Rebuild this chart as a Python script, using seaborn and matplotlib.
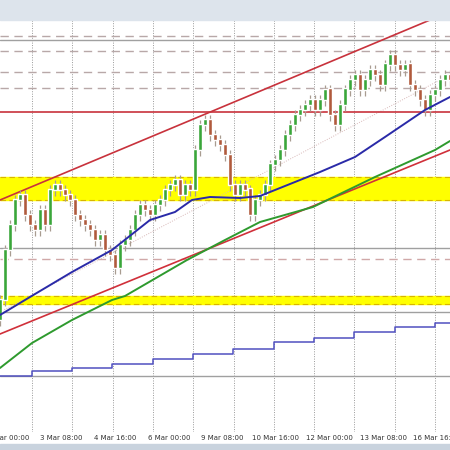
import numpy as np
import pandas as pd
import matplotlib
matplotlib.use("Agg")
import matplotlib.pyplot as plt
import seaborn as sns
from matplotlib.patches import Rectangle

sns.set_style("white")
plt.rcParams["font.family"] = ["DejaVu Sans"]

# candle closes (every 5 px of time)
closes = [106.80, 107.30, 107.55, 107.80, 107.85, 107.65, 107.55, 107.50, 107.70, 107.55,
          107.90, 107.95, 107.90, 107.85, 107.80, 107.65, 107.60, 107.55, 107.50, 107.40,
          107.45, 107.30, 107.25, 107.12, 107.35, 107.40, 107.50, 107.65, 107.75, 107.70,
          107.65, 107.75, 107.80, 107.90, 107.95, 108.00, 107.85, 107.95, 107.90, 108.30,
          108.55, 108.60, 108.45, 108.40, 108.35, 108.25, 107.95, 107.85, 107.95, 107.90,
          107.65, 107.80, 107.85, 107.95, 108.15, 108.20, 108.30, 108.45, 108.55, 108.65,
          108.70, 108.75, 108.80, 108.70, 108.80, 108.90, 108.65, 108.55, 108.75, 108.90,
          109.00, 109.05, 108.90, 109.00, 109.10, 109.05, 108.95, 109.15, 109.25, 109.15,
          109.10, 109.15, 108.95, 108.90, 108.80, 108.70, 108.85, 108.90, 109.00, 109.05, 109.00]
first_open = 106.60

# moving averages (x, price)
blue_x = [0, 30, 72, 112, 150, 175, 192, 210, 240, 260, 280, 300, 320, 355, 385, 425, 450]
blue_y = [106.65, 106.83, 107.08, 107.30, 107.60, 107.68, 107.80, 107.83, 107.82, 107.84,
          107.92, 108.00, 108.08, 108.23, 108.43, 108.70, 108.83]
green_x = [0, 32, 72, 112, 125, 187, 225, 260, 313, 375, 435, 450]
green_y = [106.12, 106.37, 106.60, 106.80, 106.84, 107.20, 107.40, 107.58, 107.73, 108.03, 108.30, 108.39]
step_x = [0, 32, 72, 112, 153, 193, 233, 274, 314, 354, 395, 435, 450]
step_y = [106.04, 106.09, 106.12, 106.16, 106.21, 106.26, 106.31, 106.38, 106.42, 106.48, 106.53, 106.57, 106.57]

solid_levels = [109.40, 107.32, 106.68, 106.04]
dashed_levels = [109.44, 109.29, 109.08, 108.92]
pink_level = 107.21
red_level = 108.68
bands = [(107.80, 108.03), (106.76, 106.84)]

tick_labels = ["2 Mar 00:00", "3 Mar 08:00", "4 Mar 16:00", "6 Mar 00:00", "9 Mar 08:00",
               "10 Mar 16:00", "12 Mar 00:00", "13 Mar 08:00", "16 Mar 16:00"]

fig = plt.figure(figsize=(4.5, 4.5), dpi=100)
fig.patches.append(Rectangle((0, 0.955), 1, 0.045, transform=fig.transFigure, color="#dde4ec", zorder=0))
fig.patches.append(Rectangle((0, 0), 1, 0.013, transform=fig.transFigure, color="#c9d3de", zorder=0))
ax = fig.add_axes([0, 0.04, 1, 412 / 450])
ax.set_xlim(0, 450)
ax.set_ylim(105.48, 109.60)

for x in np.arange(32, 450, 40.3):
    ax.axvline(x, color="#999999", ls=(0, (1, 1.5)), lw=0.7, zorder=1)
for lo, hi in bands:
    ax.axhspan(lo, hi, color="#ffff00", zorder=1)
    for v in (lo, hi):
        ax.axhline(v, color="#d9b400", ls=(0, (5, 3)), lw=0.8, zorder=1)
for v in solid_levels:
    ax.axhline(v, color="#a0a0a0", lw=1, zorder=1)
for v in dashed_levels:
    ax.axhline(v, color="#b8a8a8", ls=(0, (6, 4)), lw=1, zorder=1)
ax.axhline(pink_level, color="#d0a8a8", ls=(0, (6, 4)), lw=1, zorder=1)
ax.axhline(red_level, color="#c8323c", lw=1.2, zorder=3)

# channel lines
ax.plot([0, 430], [107.80, 109.60], color="#c8323c", lw=1.2, zorder=3)
ax.plot([0, 450], [106.46, 108.30], color="#d0303a", lw=1.2, zorder=3)
ax.plot([0, 440], [106.68, 109.00], color="#d8b8b8", ls=(0, (1, 1.5)), lw=0.7, zorder=2)

# candles
df = pd.DataFrame({"x": np.arange(len(closes)) * 5, "close": closes})
df["open"] = [first_open] + closes[:-1]
up = df["close"] >= df["open"]
lo = df[["open", "close"]].min(axis=1)
hi = df[["open", "close"]].max(axis=1)
ax.vlines(df["x"], lo - 0.06, hi + 0.05, color="#a89c90", lw=0.9, zorder=4)
ax.bar(df["x"], hi - lo + 0.015, bottom=lo, width=3.8,
       color=np.where(up, "#3aa63a", "#b05a3c"), zorder=5)

sns.lineplot(x=blue_x, y=blue_y, color="#2a2aa8", lw=1.4, ax=ax, sort=False, zorder=6)
sns.lineplot(x=green_x, y=green_y, color="#2e9a2e", lw=1.4, ax=ax, sort=False, zorder=6)
sns.lineplot(x=step_x, y=step_y, color="#5050c0", lw=1.1, ax=ax, sort=False, zorder=6,
             drawstyle="steps-post")

ax.set_xticks(8 + 53.6 * np.arange(len(tick_labels)))
ax.set_xticklabels(tick_labels, fontsize=5, color="#333333")
ax.tick_params(axis="x", length=0, pad=2)
ax.set_yticks([])
for s in ax.spines.values():
    s.set_visible(False)

fig.savefig("out.png", dpi=100)
